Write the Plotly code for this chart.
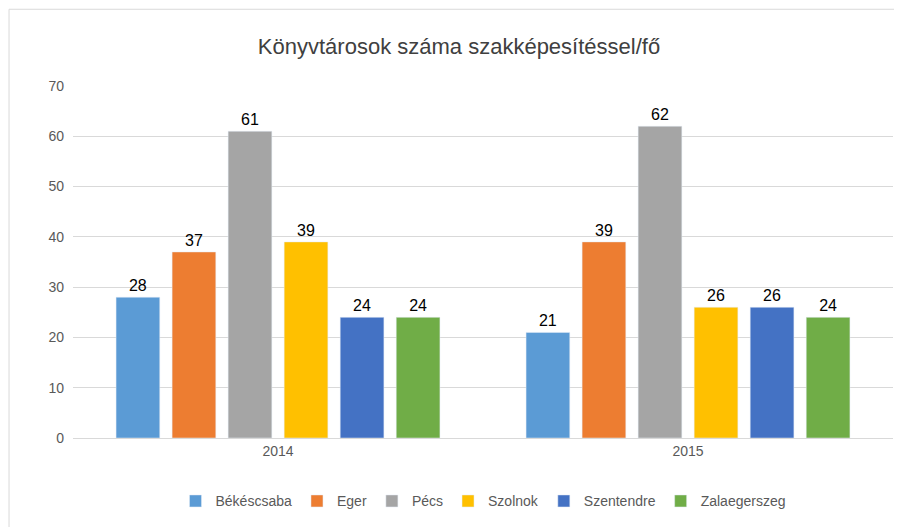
import plotly.graph_objects as go

years = ['2014', '2015']
cities = ['Békéscsaba', 'Eger', 'Pécs', 'Szolnok', 'Szentendre', 'Zalaegerszeg']
values = {
    'Békéscsaba': [28, 21],
    'Eger': [37, 39],
    'Pécs': [61, 62],
    'Szolnok': [39, 26],
    'Szentendre': [24, 26],
    'Zalaegerszeg': [24, 24],
}
colors = ['#5B9BD5', '#ED7D31', '#A5A5A5', '#FFC000', '#4472C4', '#70AD47']

fig = go.Figure()
for city, col in zip(cities, colors):
    fig.add_trace(go.Bar(
        x=years, y=values[city], name=city, marker_color=col,
        text=values[city], textposition='outside',
        textfont=dict(size=16, color='black'), cliponaxis=False,
    ))

fig.update_layout(
    width=902, height=527,
    margin=dict(l=65, r=17, t=78, b=97, autoexpand=False),
    paper_bgcolor='white', plot_bgcolor='white',
    font=dict(family='Liberation Sans, Arial, sans-serif', color='#595959', size=14),
    title=dict(text='Könyvtárosok száma szakképesítéssel/fő', x=0.5, y=0.928,
               xanchor='center', yanchor='middle', font=dict(size=22, color='#404040')),
    barmode='group', bargap=0.18, bargroupgap=0.22,
    legend=dict(orientation='h', x=0.5, xanchor='center', y=-0.18, yanchor='middle',
                font=dict(size=14, color='#595959')),
    xaxis=dict(showline=True, linecolor='#D9D9D9', ticks=''),
    yaxis=dict(range=[0, 70], dtick=10, gridcolor='#D9D9D9', zeroline=False,
               ticks='', ticklabelstandoff=8),
    shapes=[dict(type='rect', xref='paper', yref='paper', x0=-0.078, x1=1.019,
                 y0=-0.273, y1=1.218, line=dict(color='#D9D9D9', width=1))],
)

fig.write_html("out.html")
